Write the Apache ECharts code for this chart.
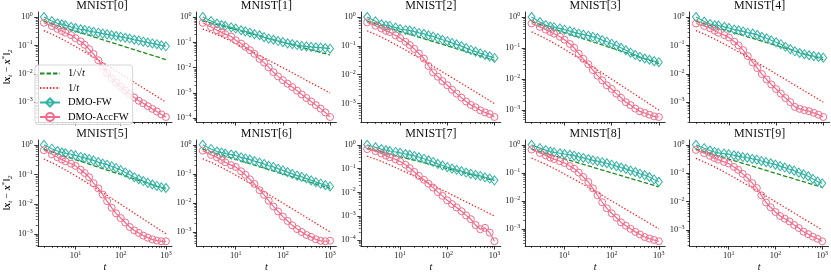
<!DOCTYPE html>
<html><head><meta charset="utf-8">
<script src="https://cdn.jsdelivr.net/npm/echarts@6/dist/echarts.min.js"></script>
<style>html,body{margin:0;padding:0;background:#fff}#c{width:831px;height:273px}</style>
</head><body><div id="c"></div>
<script>
// iteration t
const T = [2,3,4,5,6,8,10,13,16,20,25,32,40,50,63,79,100,126,158,200,251,316,398,501,631,794,1000];
const titles = ['MNIST[0]','MNIST[1]','MNIST[2]','MNIST[3]','MNIST[4]','MNIST[5]','MNIST[6]','MNIST[7]','MNIST[8]','MNIST[9]'];
// reference rates
const rateSqrt = [0.707,0.577,0.5,0.447,0.408,0.354,0.316,0.277,0.25,0.224,0.2,0.177,0.158,0.141,0.126,0.112,0.1,0.089,0.0795,0.0707,0.0631,0.0563,0.0501,0.0447,0.0398,0.0355,0.0316];
const rateLin = [0.333,0.25,0.2,0.167,0.143,0.111,0.0909,0.0714,0.0588,0.0476,0.0385,0.0303,0.0244,0.0196,0.0156,0.0125,0.0099,0.00787,0.00629,0.00498,0.00397,0.00315,0.0025,0.002,0.00158,0.00126,0.001];
// DMO-FW
const fw0 = [1.0,0.72,0.6,0.55,0.51,0.45,0.41,0.37,0.35,0.32,0.30,0.28,0.26,0.245,0.23,0.214,0.2,0.186,0.174,0.158,0.148,0.135,0.126,0.117,0.11,0.1,0.093];
const fw1 = [1.0,0.69,0.55,0.48,0.45,0.39,0.35,0.3,0.27,0.24,0.21,0.19,0.16,0.14,0.126,0.112,0.102,0.091,0.085,0.078,0.072,0.069,0.066,0.063,0.062,0.059,0.056];
const fw2 = [1.0,0.71,0.56,0.51,0.49,0.43,0.38,0.355,0.34,0.31,0.28,0.26,0.23,0.21,0.186,0.162,0.145,0.126,0.112,0.098,0.083,0.072,0.063,0.055,0.048,0.043,0.038];
const fw3 = [1.0,0.69,0.55,0.49,0.47,0.43,0.39,0.35,0.32,0.29,0.27,0.25,0.23,0.21,0.18,0.16,0.138,0.12,0.102,0.085,0.071,0.06,0.052,0.046,0.042,0.038,0.035];
const fw4 = [1.0,0.69,0.56,0.51,0.5,0.45,0.41,0.36,0.34,0.31,0.28,0.26,0.235,0.2,0.178,0.151,0.129,0.11,0.089,0.074,0.062,0.054,0.049,0.045,0.042,0.039,0.037];
const fw5 = [1.0,0.74,0.62,0.55,0.52,0.48,0.44,0.39,0.36,0.33,0.3,0.26,0.234,0.214,0.19,0.166,0.141,0.117,0.098,0.081,0.069,0.06,0.052,0.046,0.041,0.037,0.035];
const fw6 = [1.0,0.72,0.59,0.54,0.5,0.46,0.43,0.37,0.34,0.31,0.275,0.245,0.22,0.19,0.174,0.151,0.132,0.115,0.1,0.087,0.079,0.069,0.06,0.052,0.046,0.041,0.037];
const fw7 = [1.0,0.79,0.66,0.59,0.55,0.5,0.46,0.41,0.38,0.34,0.3,0.26,0.224,0.19,0.158,0.135,0.115,0.1,0.089,0.078,0.068,0.06,0.054,0.049,0.043,0.038,0.032];
const fw8 = [1.0,0.76,0.65,0.575,0.54,0.5,0.47,0.44,0.41,0.37,0.34,0.31,0.28,0.26,0.24,0.22,0.195,0.174,0.155,0.138,0.12,0.107,0.093,0.083,0.071,0.058,0.048];
const fw9 = [1.0,0.76,0.63,0.56,0.52,0.49,0.47,0.43,0.4,0.37,0.35,0.32,0.3,0.27,0.245,0.224,0.2,0.178,0.158,0.138,0.123,0.105,0.091,0.078,0.063,0.051,0.044];
// DMO-AccFW
const acc0 = [0.63,0.48,0.38,0.32,0.28,0.23,0.18,0.138,0.105,0.074,0.05,0.030,0.018,0.0107,0.0069,0.0049,0.0035,0.0026,0.00195,0.00145,0.00112,0.00091,0.00072,0.00058,0.00047,0.00037,0.0003];
const acc1 = [0.59,0.4,0.30,0.25,0.21,0.17,0.12,0.089,0.066,0.049,0.035,0.022,0.0158,0.0102,0.0066,0.0045,0.0032,0.0023,0.0017,0.00123,0.00087,0.00063,0.00046,0.00033,0.00024,0.00017,0.000112];
const acc2 = [0.65,0.5,0.4,0.33,0.3,0.23,0.186,0.138,0.107,0.078,0.054,0.036,0.02,0.012,0.0085,0.006,0.0043,0.003,0.0022,0.0016,0.00117,0.00089,0.00074,0.00058,0.00049,0.00043,0.00034];
const acc3 = [0.62,0.48,0.39,0.33,0.29,0.23,0.186,0.135,0.102,0.066,0.045,0.03,0.0195,0.0129,0.0091,0.0063,0.0048,0.0034,0.0025,0.0018,0.00145,0.00112,0.00091,0.00081,0.00071,0.00063,0.0006];
const acc4 = [0.59,0.48,0.4,0.33,0.28,0.23,0.19,0.135,0.1,0.068,0.042,0.025,0.0158,0.0098,0.0063,0.0042,0.0029,0.002,0.0014,0.001,0.00068,0.00058,0.00052,0.00048,0.00042,0.00036,0.0003];
const acc5 = [0.66,0.48,0.38,0.32,0.28,0.23,0.195,0.145,0.112,0.081,0.051,0.034,0.021,0.0126,0.0076,0.0049,0.0034,0.0024,0.0017,0.0013,0.00107,0.00087,0.00074,0.00065,0.00059,0.00056,0.00056];
const acc6 = [0.63,0.45,0.37,0.3,0.25,0.2,0.174,0.123,0.093,0.065,0.045,0.0275,0.019,0.012,0.0076,0.0051,0.0034,0.0024,0.0017,0.00126,0.001,0.00079,0.00068,0.00056,0.0005,0.00048,0.0005];
const acc7 = [0.66,0.54,0.43,0.35,0.3,0.245,0.2,0.145,0.105,0.072,0.049,0.034,0.023,0.0158,0.0102,0.0071,0.0046,0.0032,0.0023,0.0016,0.00107,0.00074,0.00042,0.00028,0.00032,0.0002,0.000087];
const acc8 = [0.68,0.51,0.42,0.35,0.31,0.26,0.224,0.174,0.141,0.102,0.071,0.047,0.028,0.0158,0.0089,0.0054,0.0036,0.0025,0.0017,0.0013,0.001,0.00078,0.00063,0.00051,0.00045,0.0004,0.00036];
const acc9 = [0.66,0.51,0.41,0.34,0.3,0.25,0.22,0.166,0.132,0.095,0.069,0.045,0.03,0.0166,0.0093,0.0063,0.0043,0.0031,0.0025,0.002,0.0015,0.00117,0.00087,0.00071,0.00058,0.00049,0.0004];

const FW = [fw0,fw1,fw2,fw3,fw4,fw5,fw6,fw7,fw8,fw9];
const ACC = [acc0,acc1,acc2,acc3,acc4,acc5,acc6,acc7,acc8,acc9];

const SERIF = '"Liberation Serif", "DejaVu Serif", serif';
const TEAL = '#33b3a4', PINK = '#f26d8c', GREEN = '#1e8c1e', RED = '#ff1a1a';

const supRich = {
  s: {fontSize: 6, fontFamily: SERIF, verticalAlign: 'top', lineHeight: 7, color: '#222'}
};
function powFmt(v) {
  const k = Math.round(Math.log10(v));
  return '10{s|' + String(k).replace('-', '\u2212') + '}';
}

const grids = [], xAxes = [], yAxes = [], series = [], graphics = [];
const lx = T.map(Math.log10);
const xlo = Math.min(...lx), xhi = Math.max(...lx), xm = 0.05 * (xhi - xlo);
const xmin = Math.pow(10, xlo - xm), xmax = Math.pow(10, xhi + xm);
function majors(a, b) { const out = []; for (let k = Math.ceil(a - 1e-9); k <= Math.floor(b + 1e-9); k++) out.push(Math.pow(10, k)); return out; }
function minors(a, b) { const out = []; for (let k = Math.floor(a) ; k <= Math.ceil(b); k++) for (let j = 2; j <= 9; j++) { const v = j * Math.pow(10, k); const l = Math.log10(v); if (l > a && l < b) out.push(v); } return out; }
const xMaj = majors(xlo - xm, xhi + xm), xMin = minors(xlo - xm, xhi + xm);

for (let p = 0; p < 10; p++) {
  const r = Math.floor(p / 5), c = p % 5;
  const left = 32 + c * 164.4, top = r ? 140 : 12, width = 140, height = r ? 109 : 110;
  grids.push({left, top, width, height, containLabel: false});
  const all = [].concat(FW[p], ACC[p], rateSqrt, rateLin).map(Math.log10);
  const lo = Math.min(...all), hi = Math.max(...all), m = 0.05 * (hi - lo);
  const ymin = Math.pow(10, lo - m), ymax = Math.pow(10, hi + m);
  const yMaj = majors(lo - m, hi + m), yMin = minors(lo - m, hi + m);
  const lineS = {color: '#000', width: 0.8};
  xAxes.push({
    type: 'log', logBase: 10, gridIndex: p, min: xmin, max: xmax, position: 'bottom',
    axisLine: {show: true, onZero: false, lineStyle: lineS},
    axisTick: {show: true, length: 3.5, lineStyle: lineS, customValues: xMaj},
    axisLabel: {show: r === 1, customValues: xMaj, formatter: powFmt, margin: 4,
      fontFamily: SERIF, fontSize: 8.5, color: '#222', lineHeight: 11, rich: supRich},
    splitLine: {show: false}, minorTick: {show: false},
    name: r === 1 ? 't' : '', nameLocation: 'middle', nameGap: 14,
    nameTextStyle: {fontFamily: SERIF, fontStyle: 'italic', fontSize: 10, color: '#000'}
  });
  xAxes.push({
    type: 'log', logBase: 10, gridIndex: p, min: xmin, max: xmax, position: 'bottom',
    axisLine: {show: false, onZero: false},
    axisTick: {show: true, length: 2, lineStyle: {color: '#000', width: 0.6}, customValues: xMin},
    axisLabel: {show: false}, splitLine: {show: false}
  });
  yAxes.push({
    type: 'log', logBase: 10, gridIndex: p, min: ymin, max: ymax, position: 'left',
    axisLine: {show: true, onZero: false, lineStyle: lineS},
    axisTick: {show: true, length: 3.5, lineStyle: lineS, customValues: yMaj},
    axisLabel: {show: true, customValues: yMaj, formatter: powFmt, margin: 5,
      fontFamily: SERIF, fontSize: 8.5, color: '#222', lineHeight: 11, rich: supRich},
    splitLine: {show: false},
    name: c === 0 ? '\u2016{b|x}{sb|t} \u2212 {b|x}{sp|*}\u2016{sb|2}' : '',
    nameLocation: 'middle', nameGap: 21, nameRotate: 90,
    nameTextStyle: {fontFamily: SERIF, fontSize: 10, color: '#000', lineHeight: 13,
      rich: {
        b: {fontFamily: SERIF, fontSize: 10, fontWeight: 'bold', fontStyle: 'italic', color: '#000'},
        sb: {fontFamily: SERIF, fontSize: 7, fontStyle: 'italic', verticalAlign: 'bottom', lineHeight: 8, color: '#000'},
        sp: {fontFamily: SERIF, fontSize: 7, verticalAlign: 'top', lineHeight: 8, color: '#000'}
      }}
  });
  yAxes.push({
    type: 'log', logBase: 10, gridIndex: p, min: ymin, max: ymax, position: 'left',
    axisLine: {show: false, onZero: false},
    axisTick: {show: true, length: 2, lineStyle: {color: '#000', width: 0.6}, customValues: yMin},
    axisLabel: {show: false}, splitLine: {show: false}
  });
  const xi = 2 * p, yi = 2 * p;
  const pts = arr => T.map((t, i) => [t, arr[i]]);
  series.push({type: 'line', name: '1/\u221at', xAxisIndex: xi, yAxisIndex: yi, data: pts(rateSqrt),
    symbol: 'none', lineStyle: {color: GREEN, width: 1.3, type: [4.5, 2]}, itemStyle: {color: GREEN}, z: 2, silent: true});
  series.push({type: 'line', name: '1/t', xAxisIndex: xi, yAxisIndex: yi, data: pts(rateLin),
    symbol: 'none', lineStyle: {color: RED, width: 1.3, type: [1.3, 2]}, itemStyle: {color: RED}, z: 2, silent: true});
  series.push({type: 'line', name: 'DMO-FW', xAxisIndex: xi, yAxisIndex: yi, data: pts(FW[p]),
    symbol: 'diamond', symbolSize: [7, 9], showSymbol: true,
    lineStyle: {color: TEAL, width: 1.2}, itemStyle: {color: 'rgba(255,255,255,0)', borderColor: TEAL, borderWidth: 1}, z: 3, silent: true});
  series.push({type: 'line', name: 'DMO-AccFW', xAxisIndex: xi, yAxisIndex: yi, data: pts(ACC[p]),
    symbol: 'circle', symbolSize: 7, showSymbol: true,
    lineStyle: {color: PINK, width: 1.2}, itemStyle: {color: 'rgba(255,255,255,0)', borderColor: PINK, borderWidth: 1}, z: 4, silent: true});
  graphics.push({type: 'text', x: left + width / 2, y: top - 6, silent: true,
    style: {text: titles[p], fontFamily: SERIF, fontSize: 12, fill: '#111', align: 'center', verticalAlign: 'middle'}});
}

const legendFmt = {'1/\u221at': '1/\u221a{i|t}', '1/t': '1/{i|t}', 'DMO-FW': 'DMO-FW', 'DMO-AccFW': 'DMO-AccFW'};
const chart = echarts.init(document.getElementById('c'), null, {renderer: 'canvas'});
chart.setOption({
  animation: false,
  backgroundColor: '#fff',
  grid: grids, xAxis: xAxes, yAxis: yAxes, series,
  graphic: graphics,
  legend: {
    data: [
      {name: '1/\u221at', itemStyle: {opacity: 0}},
      {name: '1/t', itemStyle: {opacity: 0}},
      {name: 'DMO-FW'},
      {name: 'DMO-AccFW'}
    ],
    orient: 'vertical', left: 35, top: 65, itemWidth: 20, itemHeight: 10, itemGap: 3.5,
    padding: [3, 4, 2, 4], backgroundColor: 'rgba(255,255,255,0.8)', borderColor: '#cccccc',
    borderWidth: 0.8, borderRadius: 3, selectedMode: false, z: 10,
    formatter: n => legendFmt[n],
    textStyle: {fontFamily: SERIF, fontSize: 10.5, lineHeight: 10, color: '#000', padding: [0, 0, 0, 3],
      rich: {i: {fontFamily: SERIF, fontSize: 10.5, fontStyle: 'italic', color: '#000'}}}
  }
});
</script></body></html>
